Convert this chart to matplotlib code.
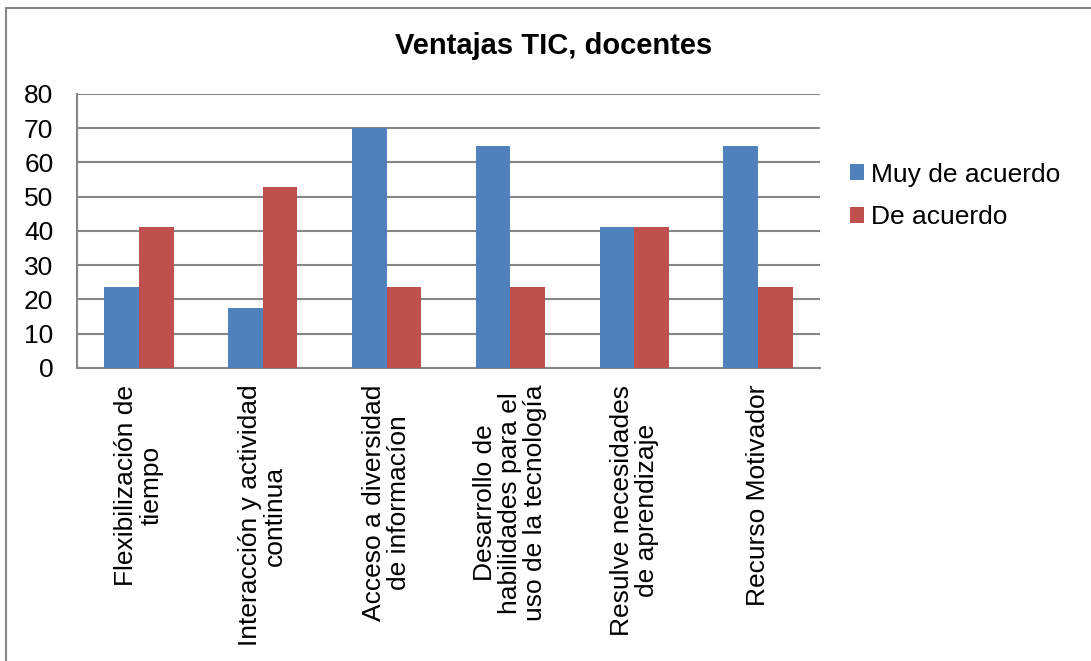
import matplotlib.pyplot as plt
import numpy as np
from matplotlib.patches import Rectangle

# Datos
categorias = ['Flexibilización de\ntiempo',
              'Interacción y actividad\ncontinua',
              'Acceso a diversidad\nde informacíon',
              'Desarrollo de\nhabilidades para el\nuso de la tecnología',
              'Resulve necesidades\nde aprendizaje',
              'Recurso Motivador']
muy_de_acuerdo = [23.5, 17.6, 70.0, 64.7, 41.2, 64.7]
de_acuerdo = [41.2, 52.9, 23.5, 23.5, 41.2, 23.5]
yticks = [0, 10, 20, 30, 40, 50, 60, 70, 80]

plt.rcParams['font.family'] = ['Liberation Sans', 'DejaVu Sans']

fig = plt.figure(figsize=(10.91, 6.61), dpi=100)
ax = fig.add_axes([0.0706, 0.4433, 0.6810, 0.4145])

# marco exterior
fig.patches.append(Rectangle((6 / 1091, -0.1), 1.2, 1 - 8 / 661 + 0.1,
                             transform=fig.transFigure, fill=False,
                             edgecolor='#868686', linewidth=1.5))

x = np.arange(len(categorias))
w = 0.28
ax.bar(x - w / 2, muy_de_acuerdo, w, color='#4F81BD', label='Muy de acuerdo', zorder=3)
ax.bar(x + w / 2, de_acuerdo, w, color='#C0504D', label='De acuerdo', zorder=3)

ax.set_xlim(-0.5, len(categorias) - 0.5)
ax.set_ylim(0, 80)
ax.set_yticks(yticks)
ax.tick_params(axis='y', length=0, pad=17, labelsize=19)
ax.grid(axis='y', color='#868686', linewidth=1.5, zorder=0)

ax.set_xticks(x)
ax.set_xticklabels(categorias, rotation=90, fontsize=19, linespacing=1.05,
                   ha='center', va='top', multialignment='center')
ax.tick_params(axis='x', length=0, pad=12)

for s in ['top', 'right']:
    ax.spines[s].set_visible(False)
for s in ['left', 'bottom']:
    ax.spines[s].set_color('#868686')
    ax.spines[s].set_linewidth(1.5)

fig.text(0.507, 0.930, 'Ventajas TIC, docentes', ha='center', va='center',
         fontsize=21, fontweight='bold')

fig.legend(loc='upper left', bbox_to_anchor=(0.757, 0.79), frameon=False,
           fontsize=19, handlelength=0.55, handleheight=0.55, handletextpad=0.25,
           labelspacing=0.7)

fig.savefig('out.png', dpi=100)
